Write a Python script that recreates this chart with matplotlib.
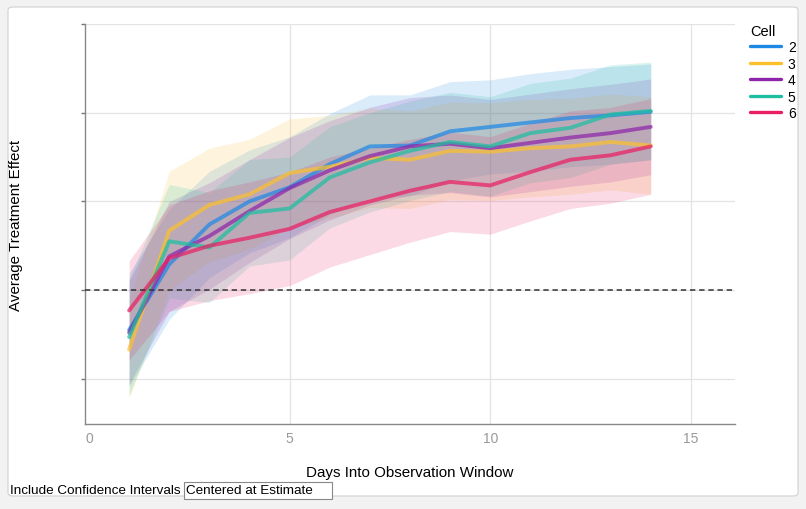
import matplotlib
matplotlib.use("Agg")
import matplotlib.pyplot as plt
from matplotlib.patches import FancyBboxPatch, Rectangle
import numpy as np

plt.rcParams['font.family'] = ['Liberation Sans', 'DejaVu Sans']

# data
days = np.arange(1, 15)
cells = ['2', '3', '4', '5', '6']
colors = ['#1E88E5', '#FBC02D', '#8E24AA', '#1DBFA0', '#E91E63']

effect_2 = [-0.45, 0.29, 0.74, 1.00, 1.16, 1.42, 1.62, 1.63, 1.79, 1.84, 1.89, 1.94, 1.97, 2.01]
effect_3 = [-0.67, 0.67, 0.96, 1.08, 1.32, 1.39, 1.49, 1.47, 1.57, 1.56, 1.60, 1.62, 1.67, 1.63]
effect_4 = [-0.48, 0.38, 0.61, 0.89, 1.15, 1.35, 1.51, 1.62, 1.65, 1.60, 1.66, 1.72, 1.77, 1.84]
effect_5 = [-0.53, 0.55, 0.48, 0.87, 0.92, 1.27, 1.44, 1.57, 1.67, 1.62, 1.77, 1.83, 1.98, 2.02]
effect_6 = [-0.23, 0.36, 0.50, 0.59, 0.69, 0.88, 1.00, 1.12, 1.22, 1.18, 1.33, 1.47, 1.52, 1.62]

# confidence interval half widths
ci_2 = [0.64, 0.62, 0.60, 0.58, 0.57, 0.57, 0.58, 0.57, 0.56, 0.53, 0.55, 0.55, 0.55, 0.54]
ci_3 = [0.55, 0.67, 0.64, 0.62, 0.61, 0.58, 0.56, 0.55, 0.55, 0.55, 0.55, 0.54, 0.54, 0.55]
ci_4 = [0.58, 0.62, 0.60, 0.58, 0.57, 0.56, 0.55, 0.55, 0.55, 0.55, 0.55, 0.55, 0.55, 0.54]
ci_5 = [0.66, 0.64, 0.62, 0.60, 0.58, 0.57, 0.56, 0.56, 0.56, 0.56, 0.56, 0.56, 0.56, 0.55]
ci_6 = [0.56, 0.60, 0.62, 0.63, 0.64, 0.62, 0.60, 0.58, 0.56, 0.55, 0.55, 0.55, 0.54, 0.54]

effects = [effect_2, effect_3, effect_4, effect_5, effect_6]
cis = [ci_2, ci_3, ci_4, ci_5, ci_6]

fig = plt.figure(figsize=(8.06, 5.10), dpi=100, facecolor='#f2f2f2')

# white panel behind the chart
panel = FancyBboxPatch((8 / 806, 13 / 510), 790 / 806, 489 / 510,
                       boxstyle='round,pad=0,rounding_size=0.006',
                       transform=fig.transFigure, facecolor='white',
                       edgecolor='#d0d0d0', linewidth=0.8, zorder=-5)
fig.patches.append(panel)

ax = fig.add_axes([85 / 806, 1 - 425 / 510, 650 / 806, 400 / 510])
ax.set_facecolor('none')

for eff, ci, col in zip(effects, cis, colors):
    eff = np.array(eff)
    ci = np.array(ci)
    ax.fill_between(days, eff - ci, eff + ci, color=col, alpha=0.16,
                    linewidth=0, zorder=1)

for eff, col, name in zip(effects, colors, cells):
    ax.plot(days, eff, color=col, linewidth=2.8, alpha=0.72,
            solid_capstyle='round', zorder=3, label=name)

ax.axhline(0, color='#333333', linestyle=(0, (3.5, 2.5)), linewidth=1.1,
           zorder=4)

ax.set_xlim(-0.1, 16.1)
ax.set_ylim(-1.51, 3.0)
ax.set_xticks([0, 5, 10, 15])
ax.set_yticks([-1, 0, 1, 2, 3])
ax.set_yticklabels([])
ax.grid(True, color='#e3e3e3', linewidth=0.9, zorder=0)
ax.get_xgridlines()[0].set_visible(False)
ax.set_axisbelow(True)
ax.tick_params(axis='x', colors='#999999', labelsize=10, length=0, pad=5)
ax.tick_params(axis='y', color='#777777', length=3, width=1)
for side in ['top', 'right']:
    ax.spines[side].set_visible(False)
for side in ['left', 'bottom']:
    ax.spines[side].set_color('#888888')
    ax.spines[side].set_linewidth(1)

ax.set_xlabel('Days Into Observation Window', fontsize=10.9)
ax.set_ylabel('Average Treatment Effect', fontsize=10.9)
ax.xaxis.set_label_coords(0.5, (425 - 466) / 400)
ax.yaxis.set_label_coords((23 - 85) / 650, 0.5)

leg = ax.legend(title='Cell', loc='upper left', bbox_to_anchor=(1.015, 1.015),
                frameon=False, fontsize=10, title_fontsize=10.5,
                handlelength=2.2, handletextpad=0.5, labelspacing=0.18,
                borderaxespad=0.0)
leg._legend_box.align = 'left'
for h in leg.get_lines():
    h.set_linewidth(2.4)
    h.set_alpha(1)

# confidence interval selector below the chart
fig.text(10 / 806, 1 - 491 / 510, 'Include Confidence Intervals',
         fontsize=9.7, va='center', ha='left')
box = Rectangle((184 / 806, 1 - 500 / 510), 148 / 806, 17 / 510,
                transform=fig.transFigure, facecolor='white',
                edgecolor='#888888', linewidth=0.8)
fig.patches.append(box)
fig.text(186 / 806, 1 - 491 / 510, 'Centered at Estimate',
         fontsize=9.7, va='center', ha='left')

fig.savefig('out.png', dpi=100, facecolor=fig.get_facecolor())
